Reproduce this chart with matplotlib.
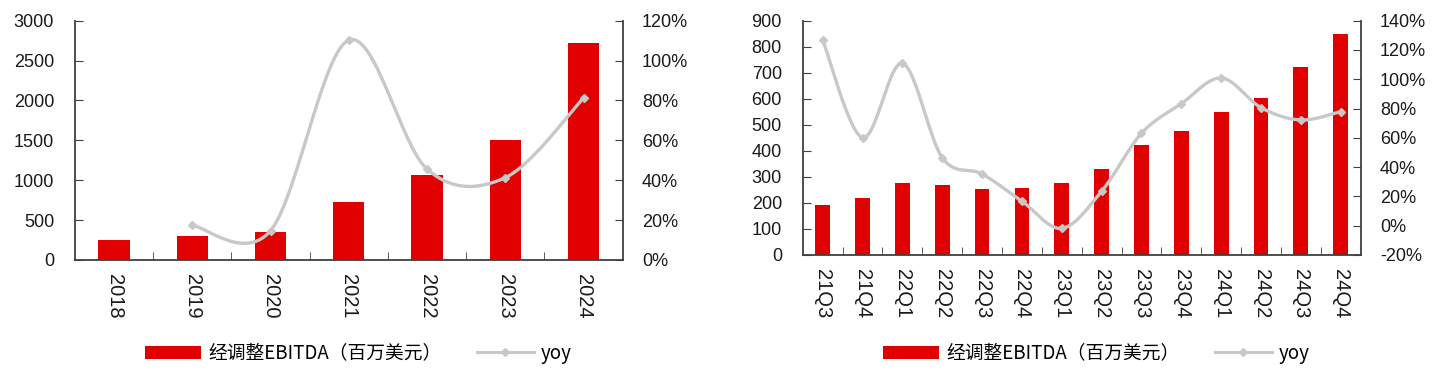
import numpy as np
import matplotlib
matplotlib.use("Agg")
import matplotlib.pyplot as plt
from matplotlib.ticker import FuncFormatter, FixedLocator
from matplotlib.lines import Line2D
from matplotlib.patches import Patch

# annual data
years = ["2018", "2019", "2020", "2021", "2022", "2023", "2024"]
ebitda_year = [251, 297, 347, 723, 1062, 1500, 2724]
yoy_year = [np.nan, 17.4, 14.7, 110.3, 45.6, 41.3, 81.2]

# quarterly data
quarters = ["21Q3", "21Q4", "22Q1", "22Q2", "22Q3", "22Q4", "23Q1",
            "23Q2", "23Q3", "23Q4", "24Q1", "24Q2", "24Q3", "24Q4"]
ebitda_q = [191, 218, 275, 270, 254, 259, 275, 332, 421, 478, 551, 602, 721, 848]
yoy_q = [126.8, 60.1, 110.9, 46.5, 35.3, 16.7, -1.8, 23.5, 63.1, 83.3,
         100.9, 80.6, 72.2, 77.9]

RED = "#E00000"
GREY = "#C8C8C8"
AXC = "#404040"
TXT = "#1a1a1a"
LEGEND_LABEL = "经调整EBITDA（百万美元）"

plt.rcParams["font.family"] = ["Liberation Sans", "DejaVu Sans"]


def smooth(x, y, n=30):
    # catmull-rom like excel's smoothed line
    x = np.asarray(x, float)
    y = np.asarray(y, float)
    px = np.concatenate([[x[0]], x, [x[-1]]])
    py = np.concatenate([[y[0]], y, [y[-1]]])
    xs, ys = [], []
    t = np.linspace(0, 1, n)
    for i in range(1, len(px) - 2):
        p0, p1, p2, p3 = (np.array([px[j], py[j]]) for j in range(i - 1, i + 3))
        c1 = p1 + (p2 - p0) / 6
        c2 = p2 - (p3 - p1) / 6
        b = ((1 - t) ** 3)[:, None] * p1 + (3 * (1 - t) ** 2 * t)[:, None] * c1 \
            + (3 * (1 - t) * t ** 2)[:, None] * c2 + (t ** 3)[:, None] * p2
        xs.append(b[:, 0])
        ys.append(b[:, 1])
    return np.concatenate(xs), np.concatenate(ys)


def draw(ax, cats, bars, yoy, ylim, ystep, plim, pstep, width):
    x = np.arange(len(cats))
    ax.bar(x, bars, width=width, color=RED, zorder=2)
    ax.set_xlim(-0.5, len(cats) - 0.5)
    ax.set_ylim(*ylim)
    ax.set_yticks(np.arange(ylim[0], ylim[1] + 1, ystep))
    ax.set_xticks(x)
    ax.set_xticklabels(cats, rotation=-90, fontsize=14.5, color=TXT)
    ax.xaxis.set_minor_locator(FixedLocator(np.arange(0.5, len(cats) - 0.5)))
    ax.tick_params(axis="x", which="major", length=0, pad=10)
    ax.tick_params(axis="x", which="minor", direction="in", length=6, color=AXC)
    ax.tick_params(axis="y", direction="in", length=6, color=AXC, pad=15,
                   labelsize=13, labelcolor=TXT)
    ax.spines["top"].set_visible(False)
    ax.spines["right"].set_visible(False)
    for s in ("left", "bottom"):
        ax.spines[s].set_color(AXC)
        ax.spines[s].set_linewidth(1.3)

    ax2 = ax.twinx()
    ax2.set_ylim(*plim)
    ax2.set_yticks(np.arange(plim[0], plim[1] + 1, pstep))
    ax2.yaxis.set_major_formatter(FuncFormatter(lambda v, p: f"{v:.0f}%"))
    ax2.tick_params(axis="y", direction="in", length=6, color=AXC, pad=14,
                    labelsize=13, labelcolor=TXT)
    for s in ("top", "left", "bottom"):
        ax2.spines[s].set_visible(False)
    ax2.spines["right"].set_color(AXC)
    ax2.spines["right"].set_linewidth(1.3)

    yv = np.asarray(yoy, float)
    ok = ~np.isnan(yv)
    sx, sy = smooth(x[ok], yv[ok])
    ax2.plot(sx, sy, color=GREY, lw=2.4, zorder=3)
    ax2.plot(x[ok], yv[ok], ls="none", marker="D", ms=4.5, color=GREY, zorder=4)
    return ax2


fig = plt.figure(figsize=(14.33, 3.71), dpi=100)
ax1 = fig.add_axes([0.0523, 0.2992, 0.4345 - 0.0523, 0.9442 - 0.2992])
draw(ax1, years, ebitda_year, yoy_year, (0, 3000), 500, (0, 120), 20, 0.4)
ax3 = fig.add_axes([0.5602, 0.3127, 0.9495 - 0.5602, 0.9442 - 0.3127])
draw(ax3, quarters, ebitda_q, yoy_q, (0, 900), 100, (-20, 140), 20, 0.37)

handles = [Patch(facecolor=RED, edgecolor="none"),
           Line2D([], [], color=GREY, lw=2.2, marker="D", ms=4)]
labels = [LEGEND_LABEL, "yoy"]
for xpos in (0.101, 0.616):
    fig.legend(handles, labels, loc="center left", bbox_to_anchor=(xpos, 0.048),
               ncol=2, frameon=False, borderpad=0, borderaxespad=0,
               handlelength=3.0, handleheight=0.7, handletextpad=0.4,
               columnspacing=1.9,
               prop={"family": ["Noto Sans CJK SC", "DejaVu Sans"], "size": 13.5})

fig.savefig("out.png", dpi=100)
